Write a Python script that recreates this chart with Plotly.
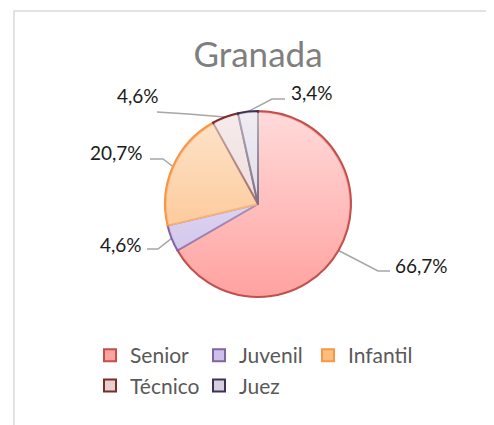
import math
import base64
import plotly.graph_objects as go

W, H = 494, 425
OFF = 8              # page body margin offset
ML, MR, MT, MB = 60, 74, 0, 0
GW, GH = W - ML - MR, H - MT - MB

categories = ["Senior", "Juvenil", "Infantil", "Técnico", "Juez"]
counts = [58, 4, 18, 4, 3]
pct_labels = ["66,7%", "4,6%", "20,7%", "4,6%", "3,4%"]

fill_colors = ["#ffa3a1", "#cdbfea", "#fcbc80", "#e8cfce", "#d6cfe1"]
line_colors = ["#c0504d", "#8064a2", "#f79646", "#7b2c2a", "#403152"]

# pie geometry (screen pixels)
CX, CY, R = 258, 204, 93

# label layout: elbow offset (px from centre), horizontal end offset, text position
label_layout = [
    dict(elbow=(120, 67), end=(132, 67), text=(135, 61), anchor="left"),
    dict(elbow=(-100, 45), end=(-111, 45), text=(-114, 40), anchor="right"),
    dict(elbow=(-95, -45), end=(-108, -45), text=(-113, -52), anchor="right"),
    dict(elbow=(-70, -90), end=(-101, -92), text=(-97, -109), anchor="right"),
    dict(elbow=(14, -105), end=(27, -105), text=(31, -111), anchor="left"),
]


def px(x):
    return (x - OFF - ML) / GW


def py(y):
    return 1 - (y - OFF - MT) / GH


fig = go.Figure()
fig.add_trace(go.Pie(
    labels=categories,
    values=counts,
    sort=False,
    direction="clockwise",
    rotation=0,
    textinfo="none",
    hoverinfo="label+percent",
    marker=dict(colors=fill_colors, line=dict(color=line_colors, width=2)),
    domain=dict(x=[px(CX - R), px(CX + R)], y=[py(CY + R), py(CY - R)]),
))

total = sum(counts)
cum = 0
shapes = []
annotations = []
for i, v in enumerate(counts):
    mid = (cum + v / 2) / total * 2 * math.pi
    cum += v
    sx = CX + R * math.sin(mid)
    sy = CY - R * math.cos(mid)
    lay = label_layout[i]
    ex, ey = CX + lay["elbow"][0], CY + lay["elbow"][1]
    fx, fy = CX + lay["end"][0], CY + lay["end"][1]
    path = f"M {px(sx)} {py(sy)} L {px(ex)} {py(ey)} L {px(fx)} {py(fy)}"
    shapes.append(dict(type="path", xref="paper", yref="paper", path=path,
                       line=dict(color="#a6a6a6", width=1.5), layer="below"))
    tx, ty = CX + lay["text"][0], CY + lay["text"][1]
    annotations.append(dict(x=px(tx), y=py(ty), xref="paper", yref="paper",
                            text=pct_labels[i], showarrow=False,
                            xanchor=lay["anchor"], yanchor="middle",
                            font=dict(family="Lato, Carlito, sans-serif", size=19, color="#1a1a1a")))

# chart border
shapes.append(dict(type="rect", xref="paper", yref="paper",
                   x0=px(14), y0=py(460), x1=px(520), y1=py(11),
                   line=dict(color="#d9d9d9", width=1.5)))

# soft vertical light gradient over the pie (Excel-like gradient fill)
svg = (
    '<svg xmlns="http://www.w3.org/2000/svg" width="200" height="200" viewBox="0 0 200 200">'
    '<defs><linearGradient id="g" x1="0" y1="0" x2="0" y2="1">'
    '<stop offset="0" stop-color="#ffffff" stop-opacity="0.6"/>'
    '<stop offset="1" stop-color="#ffffff" stop-opacity="0"/>'
    '</linearGradient></defs>'
    '<circle cx="100" cy="100" r="98" fill="url(#g)"/></svg>'
)
src = "data:image/svg+xml;base64," + base64.b64encode(svg.encode()).decode()

fig.update_layout(
    width=W, height=H,
    margin=dict(l=ML, r=MR, t=MT, b=MB),
    paper_bgcolor="white",
    plot_bgcolor="white",
    title=dict(text="Granada", x=(258 - OFF) / W, xanchor="center",
               y=1 - (55 - OFF) / H, yanchor="middle",
               font=dict(family="Lato, Carlito, sans-serif", size=35, color="#7f7f7f")),
    showlegend=True,
    legend=dict(orientation="h", x=px(90), xanchor="left", y=py(335), yanchor="top",
                font=dict(family="Lato, Carlito, sans-serif", size=21, color="#595959"),
                entrywidth=64, itemwidth=30, traceorder="normal"),
    images=[dict(source=src, xref="paper", yref="paper",
                 x=px(CX - R), y=py(CY - R), sizex=px(CX + R) - px(CX - R),
                 sizey=py(CY - R) - py(CY + R), xanchor="left", yanchor="top",
                 sizing="stretch", layer="above")],
    shapes=shapes,
    annotations=annotations,
)

fig.write_html("out.html")
